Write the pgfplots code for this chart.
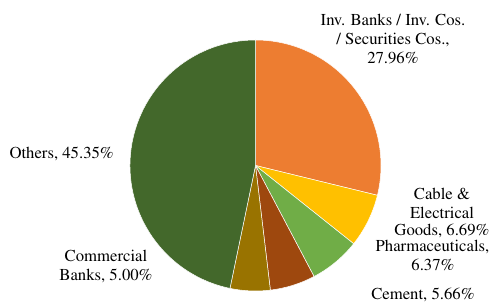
\documentclass[border=0pt]{standalone}
\usepackage[T1]{fontenc}
\usepackage{times}
\usepackage{pgfplots}
\usepackage{pgfplotstable}
\pgfplotsset{compat=1.18}
\definecolor{cInv}{HTML}{ED7D31}
\definecolor{cCable}{HTML}{FFC000}
\definecolor{cPharma}{HTML}{70AD47}
\definecolor{cCement}{HTML}{9E480E}
\definecolor{cComm}{HTML}{997300}
\definecolor{cOther}{HTML}{43682B}

\pgfplotstableread{
name value color
Inv 27.96 cInv
Cable 6.69 cCable
Pharma 6.37 cPharma
Cement 5.66 cCement
Comm 5.00 cComm
Others 45.35 cOther
}\piedata

\begin{document}
\begin{tikzpicture}[every node/.style={font=\rmfamily\fontsize{16.7bp}{19bp}\selectfont}]
\begin{axis}[at={(0,0)},anchor=south west, scale only axis,
  width=493bp, height=303bp, xmin=0, xmax=493, ymin=0, ymax=303,
  hide axis, clip=false]
\pgfplotstablegetrowsof{\piedata}
\pgfmathtruncatemacro{\nrows}{\pgfplotsretval-1}
\def\pietotal{0}
\pgfplotsforeachungrouped \i in {0,...,\nrows}{%
  \pgfplotstablegetelem{\i}{value}\of\piedata
  \pgfmathsetmacro{\pietotal}{\pietotal+\pgfplotsretval}%
}
\def\piecum{0}
\pgfplotsforeachungrouped \i in {0,...,\nrows}{%
  \pgfplotstablegetelem{\i}{value}\of\piedata
  \let\pieval\pgfplotsretval
  \pgfplotstablegetelem{\i}{color}\of\piedata
  \let\piecol\pgfplotsretval
  \pgfmathsetmacro{\pieA}{90-\piecum/\pietotal*360}%
  \pgfmathsetmacro{\pieB}{90-(\piecum+\pieval)/\pietotal*360}%
  \edef\pietemp{\noexpand\filldraw[fill=\piecol, draw=white, line width=0.5bp, line join=round] (axis cs:255.5,137.5) -- ++(\pieA:125.5bp) arc[start angle=\pieA, end angle=\pieB, radius=125.5bp] -- cycle;}%
  \pietemp
  \pgfmathsetmacro{\piecum}{\piecum+\pieval}%
}
% labels
\node[anchor=base] at (axis cs:393,277) {Inv. Banks / Inv. Cos.};
\node[anchor=base] at (axis cs:393,258) {/ Securities Cos.,};
\node[anchor=base] at (axis cs:393,239) {27.96\%};
\node[anchor=base] at (axis cs:442,103.7) {Cable \&};
\node[anchor=base] at (axis cs:442,84.7) {Electrical};
\node[anchor=base] at (axis cs:442,67) {Goods, 6.69\%};
\node[anchor=base] at (axis cs:432.5,51.3) {Pharmaceuticals,};
\node[anchor=base] at (axis cs:433,32.3) {6.37\%};
\node[anchor=base] at (axis cs:423,4) {Cement, 5.66\%};
\node[anchor=base] at (axis cs:61.7,144) {Others, 45.35\%};
\node[anchor=base] at (axis cs:106,41) {Commercial};
\node[anchor=base] at (axis cs:106,22.3) {Banks, 5.00\%};
\end{axis}
\pgfresetboundingbox
\useasboundingbox (0,0) rectangle (493bp,303bp);
\end{tikzpicture}
\end{document}
